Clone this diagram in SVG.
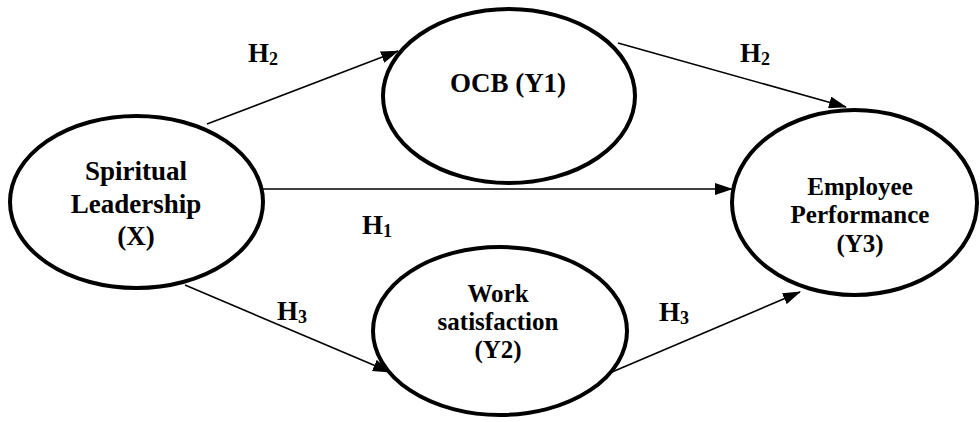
<svg xmlns="http://www.w3.org/2000/svg" width="980" height="422" viewBox="0 0 980 422">
<defs>
<style>
.node{fill:#fff;stroke:#000;stroke-width:4}
.t{font-family:"Liberation Serif","Times New Roman",serif;font-weight:bold;fill:#000;text-anchor:middle}
.big{font-size:27px}
.mid{font-size:25px}
.lab{font-family:"Liberation Serif","Times New Roman",serif;font-weight:bold;font-size:27px;fill:#000}
.sub{font-size:18px}
.edge{stroke:#000;stroke-width:1.6;fill:none;marker-end:url(#ah)}
</style>
<marker id="ah" markerUnits="userSpaceOnUse" markerWidth="18" markerHeight="12" viewBox="0 0 18 12" refX="17" refY="6" orient="auto">
<path d="M0,0 L18,6 L0,12 Z" fill="#000"/>
</marker>
</defs>
<rect width="980" height="422" fill="#fff"/>
<g id="connectors">
<line class="edge" x1="207" y1="124" x2="398" y2="51"/>
<line class="edge" x1="618" y1="43" x2="846" y2="107"/>
<line class="edge" x1="258" y1="189" x2="732" y2="189"/>
<line class="edge" x1="185" y1="285" x2="390" y2="372"/>
<line class="edge" x1="612" y1="372" x2="800" y2="292"/>
</g>
<g id="labels">
<text class="lab" x="248" y="62">H<tspan class="sub" dy="3">2</tspan></text>
<text class="lab" x="740" y="62">H<tspan class="sub" dy="3">2</tspan></text>
<text class="lab" x="362" y="234">H<tspan class="sub" dy="3">1</tspan></text>
<text class="lab" x="277" y="320">H<tspan class="sub" dy="3">3</tspan></text>
<text class="lab" x="659" y="321">H<tspan class="sub" dy="3">3</tspan></text>
</g>
<g id="spiritual">
<ellipse class="node" cx="136.5" cy="202" rx="126.5" ry="86"/>
<text class="t big" x="136" y="180">Spiritual</text>
<text class="t big" x="136" y="213">Leadership</text>
<text class="t big" x="136" y="245">(X)</text>
</g>
<g id="ocb">
<ellipse class="node" cx="509" cy="96" rx="126" ry="87"/>
<text class="t big" x="508" y="92">OCB (Y1)</text>
</g>
<g id="work">
<ellipse class="node" cx="500" cy="331" rx="127" ry="84"/>
<text class="t mid" x="498" y="302">Work</text>
<text class="t mid" x="498" y="330">satisfaction</text>
<text class="t mid" x="498" y="358">(Y2)</text>
</g>
<g id="employee">
<ellipse class="node" cx="854.5" cy="202.5" rx="122.5" ry="92.5"/>
<text class="t mid" x="860" y="195">Employee</text>
<text class="t mid" x="860" y="223">Performance</text>
<text class="t mid" x="860" y="252">(Y3)</text>
</g>
</svg>
